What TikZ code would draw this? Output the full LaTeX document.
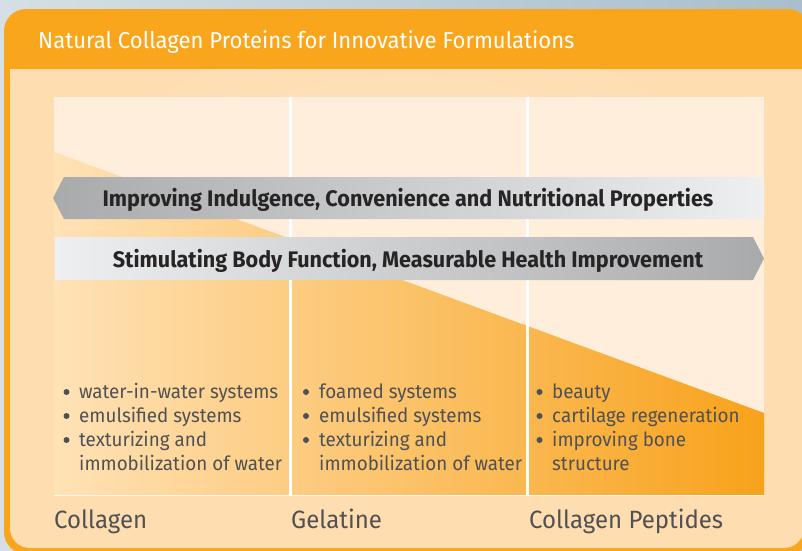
\documentclass[tikz,border=0pt]{standalone}
\usepackage{fontspec}
\setmainfont{Fira Sans}[FakeStretch=0.96]
\definecolor{bgL}{HTML}{D5DFE5}
\definecolor{bgR}{HTML}{AABECB}
\definecolor{frameor}{HTML}{F9A61D}
\definecolor{innerbg}{HTML}{FEDDB0}
\definecolor{innerlt}{HTML}{FFE6C4}
\definecolor{panelup}{HTML}{FFEEDB}
\definecolor{lowL}{HTML}{FFE2B6}
\definecolor{lowR}{HTML}{F8A21B}
\definecolor{greyD}{HTML}{A9AAAC}
\definecolor{greyL}{HTML}{EEEFF0}
\definecolor{txtgrey}{HTML}{505153}
\definecolor{arrtxt}{HTML}{262425}
\tikzset{
  bullettxt/.style={anchor=base west,inner sep=0pt,font=\fontsize{19.6}{22}\selectfont,text=txtgrey},
  bulletdot/.style={circle,fill=txtgrey,inner sep=0pt,minimum size=6pt},
  coltxt/.style={anchor=base west,inner sep=0pt,font=\fontsize{25}{28}\selectfont,text=txtgrey},
  arrtext/.style={anchor=base,inner sep=0pt,font=\bfseries\fontsize{22.5}{26}\selectfont,text=arrtxt},
  divider/.style={draw=white,line width=3pt}
}
\begin{document}
\begin{tikzpicture}[x=1pt,y=-1pt]
\useasboundingbox (0,0) rectangle (802,550);
% outer background
\shade[left color=bgL,right color=bgR] (0,0) rectangle (802,550);
% orange frame
\fill[frameor,rounded corners=22pt] (4,9) rectangle (810,554);
% inner area
\fill[innerbg] (10,69) -- (804,69) [rounded corners=20pt] -- (804,548) -- (10,548) [sharp corners] -- (10,69) -- cycle;
\begin{scope}
  \clip (10,69) rectangle (804,548);
  \shade[inner color=innerlt,outer color=innerbg,opacity=0.8] (407,200) ellipse (380 and 200);
\end{scope}
% panel upper region
\fill[panelup] (54,97) -- (764,97) -- (764,413) -- (54,152) -- cycle;
% panel lower shaded region
\shade[left color=lowL,right color=lowR] (54,152) -- (764,413) -- (764,495) -- (54,495) -- cycle;
% panel bottom line
\draw[white,line width=1pt,opacity=0.8] (54,495.5) -- (764,495.5);
% dividers
\draw[divider] (290,97) -- (290,495);
\draw[divider] (527,97) -- (527,495);
% title
\node[anchor=base west,inner sep=0pt,text=white,font=\fontsize{23}{26}\selectfont] (title) at (38,48.5) {Natural Collagen Proteins for Innovative Formulations};
% arrow 1 (left)
\shade[left color=greyD,right color=greyL] (53,198) -- (64,177) -- (763,177) -- (763,219) -- (64,219) -- cycle;
\node[arrtext] (a1) at (408,206.5) {Improving Indulgence, Convenience and Nutritional Properties};
% arrow 2 (right)
\shade[left color=greyL,right color=greyD] (55,237) -- (753,237) -- (764,258.5) -- (753,280) -- (55,280) -- cycle;
\node[arrtext] (a2) at (408,267) {Stimulating Body Function, Measurable Health Improvement};
% column 1
\node[bulletdot] (c1b1) at (66.5,392) {};
\node[bullettxt] (c1t1) at (79,398.5) {water-in-water systems};
\node[bulletdot] (c1b2) at (66.5,416) {};
\node[bullettxt] (c1t2) at (79,422.5) {emulsified systems};
\node[bulletdot] (c1b3) at (66.5,440) {};
\node[bullettxt] (c1t3) at (79,446.5) {texturizing and};
\node[bullettxt] (c1t4) at (79,470.5) {immobilization of water};
% column 2
\node[bulletdot] (c2b1) at (306,392) {};
\node[bullettxt] (c2t1) at (319,398.5) {foamed systems};
\node[bulletdot] (c2b2) at (306,416) {};
\node[bullettxt] (c2t2) at (319,422.5) {emulsified systems};
\node[bulletdot] (c2b3) at (306,440) {};
\node[bullettxt] (c2t3) at (319,446.5) {texturizing and};
\node[bullettxt] (c2t4) at (319,470.5) {immobilization of water};
% column 3
\node[bulletdot] (c3b1) at (539.5,392) {};
\node[bullettxt] (c3t1) at (552,398.5) {beauty};
\node[bulletdot] (c3b2) at (539.5,416) {};
\node[bullettxt] (c3t2) at (552,422.5) {cartilage regeneration};
\node[bulletdot] (c3b3) at (539.5,440) {};
\node[bullettxt] (c3t3) at (552,446.5) {improving bone};
\node[bullettxt] (c3t4) at (552,470.5) {structure};
% column labels
\node[coltxt] (l1) at (54,528) {Collagen};
\node[coltxt] (l2) at (291,528) {Gelatine};
\node[coltxt] (l3) at (529,528) {Collagen Peptides};
\end{tikzpicture}
\end{document}
